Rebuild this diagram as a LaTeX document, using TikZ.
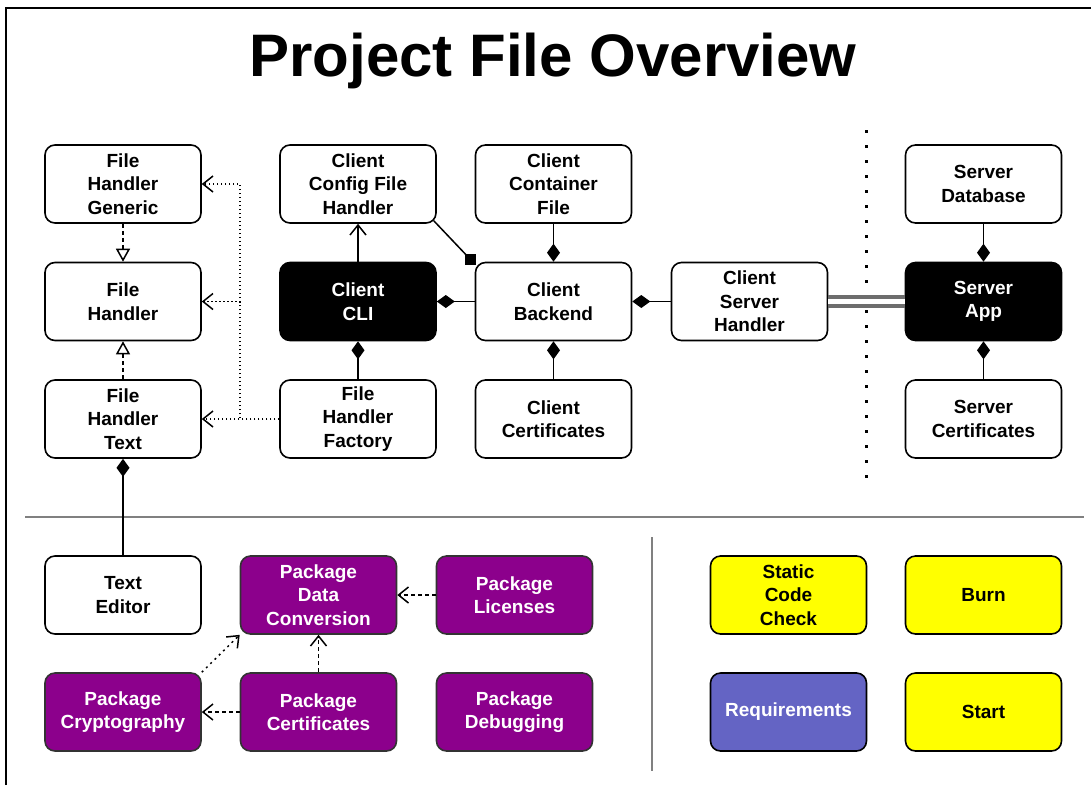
\documentclass[tikz,border=0pt]{standalone}
\usepackage{fontspec}
\setmainfont{Liberation Sans}
\usetikzlibrary{arrows.meta,calc}
\definecolor{pkgpurple}{RGB}{140,0,140}
\definecolor{reqblue}{RGB}{100,100,196}
\definecolor{sepgray}{RGB}{128,128,128}
\definecolor{taskyellow}{RGB}{255,255,0}
\begin{document}
\begin{tikzpicture}[x=1pt,y=-1pt,
  box/.style={draw=black, line width=1.6pt, rounded corners=10pt,
    minimum width=156pt, minimum height=78pt, inner sep=0pt, align=center,
    font=\bfseries\fontsize{19}{23.5}\selectfont, fill=white, text=black},
  dark/.style={box, fill=black, text=white},
  pkg/.style={box, fill=pkgpurple, draw=black!80, text=white},
  task/.style={box, fill=taskyellow},
  req/.style={box, fill=reqblue, text=white},
  conn/.style={line width=1.5pt, line join=round},
  comp/.style={conn, -{Diamond[length=18pt,width=13pt]}},
  realize/.style={conn, dash pattern=on 4pt off 3pt,
    -{Triangle[open,fill=white,length=13pt,width=14pt]}},
  uses/.style={conn, dash pattern=on 1.5pt off 2.5pt, -{Straight Barb[length=10pt,width=16pt]}},
  dashdep/.style={conn, dash pattern=on 4pt off 3pt, -{Straight Barb[length=10pt,width=16pt]}},
  dotdep/.style={conn, dash pattern=on 2pt off 4pt, -{Straight Barb[length=10pt,width=16pt]}},
  assoc/.style={conn, -{Straight Barb[length=10pt,width=16pt]}},
  sqtip/.style={fill=black, minimum size=11pt, inner sep=0pt},
]
\useasboundingbox (0,0) rectangle (1091,785);

% frame edges
\draw[line width=2.5pt] (6,785) -- (6,8) -- (1091,8);

% title
\node (title) [font=\bfseries\fontsize{60}{72}\selectfont, anchor=base] at (553,76) {Project File Overview};

% separators
\draw[sepgray, line width=2pt] (25,517) -- (1084,517);
\draw[sepgray, line width=1.5pt] (652,537) -- (652,771);
\draw[line width=3pt, dash pattern=on 3pt off 12pt] (866,130) -- (866,480);

% file handlers
\node[box] (fhg) at (123,184) {File\\Handler\\Generic};
\node[box] (fh) at (123,301.5) {File\\Handler};
\node[box] (fht) at (123,419) {File\\Handler\\Text};

% client
\node[box] (ccfh) at (358,184) {Client\\Config File\\Handler};
\node[dark] (cli) at (358,301.5) {Client\\CLI};
\node[box] (fhf) at (358,419) {File\\Handler\\Factory};
\node[box] (ccf) at (553.5,184) {Client\\Container\\File};
\node[box] (cb) at (553.5,301.5) {Client\\Backend};
\node[box] (ccert) at (553.5,419) {Client\\Certificates};
\node[box] (csh) at (749.5,301.5) {Client\\Server\\Handler};

% server
\node[box] (sdb) at (983.5,184) {Server\\Database};
\node[dark] (sa) at (983.5,301.5) {Server\\App};
\node[box] (scert) at (983.5,419) {Server\\Certificates};

% packages
\node[box] (te) at (123,595) {Text\\Editor};
\node[pkg] (pdc) at (318.5,595) {Package\\Data\\Conversion};
\node[pkg] (plic) at (514.5,595) {Package\\Licenses};
\node[pkg] (pcry) at (123,712) {Package\\Cryptography};
\node[pkg] (pcert) at (318.5,712) {Package\\Certificates};
\node[pkg] (pdbg) at (514.5,712) {Package\\Debugging};

% tasks
\node[task] (scc) at (788.5,595) {Static\\Code\\Check};
\node[task] (burn) at (983.5,595) {Burn};
\node[req] (reqs) at (788.5,712) {Requirements};
\node[task] (start) at (983.5,712) {Start};

% inheritance
\draw[realize] (fhg.south) -- (fh.north);
\draw[realize] (fht.north) -- (fh.south);

% factory dependencies
\coordinate (fbend) at (240,419);
\draw[uses] (fhf.west) -- (fht.east);
\draw[uses] (fhf.west) -- (fbend) |- (fh.east);
\draw[uses] (fhf.west) -- (fbend) |- (fhg.east);

% client associations
\draw[assoc] (cli.north) -- (ccfh.south);
\node[sqtip] (sq) at ($(cb.north west)+(-4,-2)$) {};
\draw[conn] ($(ccfh.south east)+(-3,-3)$) -- (sq.center);

% compositions
\draw[comp] (cb.west) -- (cli.east);
\draw[comp] (fhf.north) -- (cli.south);
\draw[comp] (ccf.south) -- (cb.north);
\draw[comp] (ccert.north) -- (cb.south);
\draw[comp] (csh.west) -- (cb.east);
\draw[comp] (sdb.south) -- (sa.north);
\draw[comp] (scert.north) -- (sa.south);
\draw[comp] (te.north) -- (fht.south);

% client-server link
\draw[sepgray!85!black, line width=3.5pt, double=white, double distance=5.5pt] (csh.east) -- (sa.west);

% package dependencies
\draw[dashdep] (plic.west) -- (pdc.east);
\draw[dashdep] (pcert.north) -- (pdc.south);
\draw[dashdep] (pcert.west) -- (pcry.east);
\draw[dotdep] (pcry.north east) -- (pdc.south west);
\end{tikzpicture}
\end{document}
